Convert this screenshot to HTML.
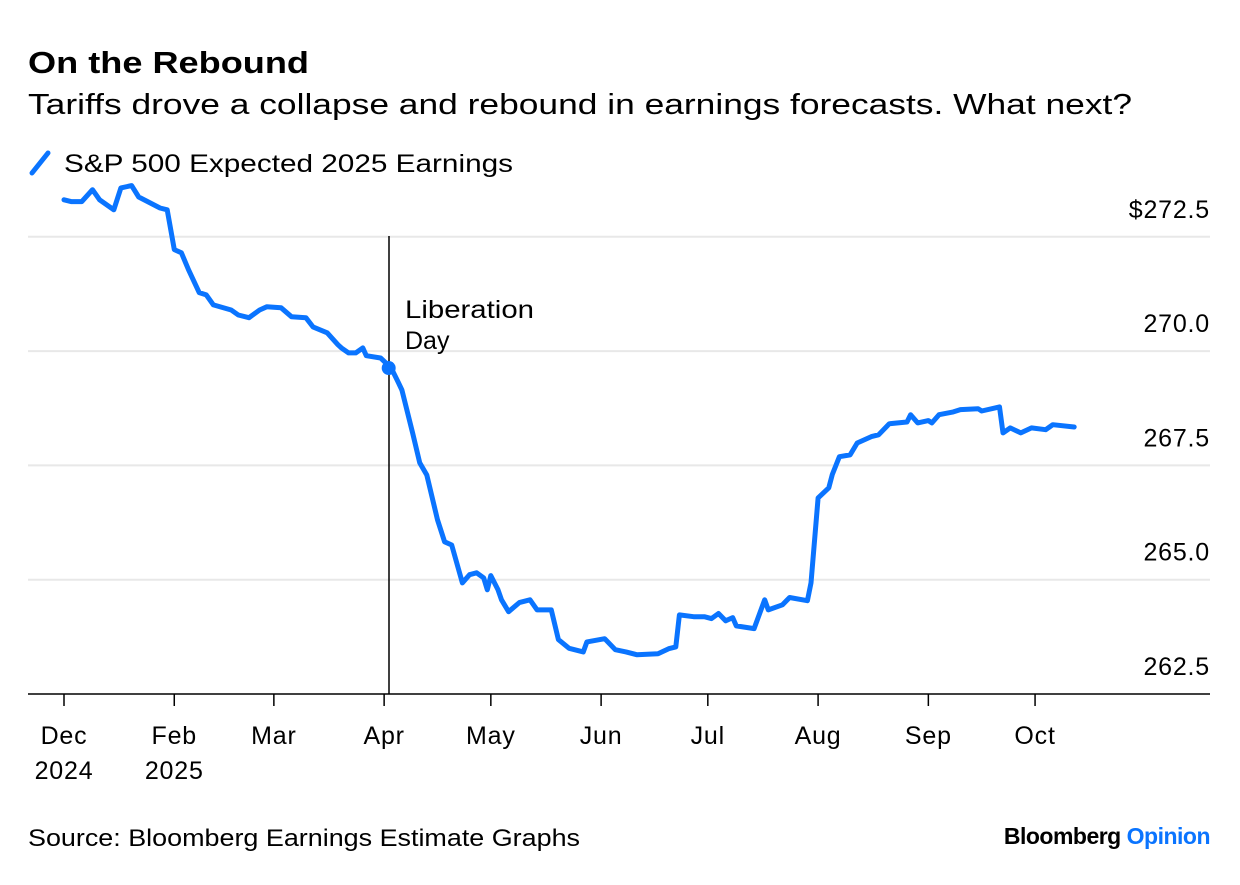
<!DOCTYPE html>
<html><head><meta charset="utf-8"><style>
body{margin:0;background:#fff;}
svg text{font-family:"Liberation Sans",sans-serif;}
</style></head><body>
<svg width="1240" height="880" viewBox="0 0 1240 880">
<text x="28" y="73" font-size="31" font-weight="bold" fill="#000" textLength="281" lengthAdjust="spacingAndGlyphs">On the Rebound</text>
<text x="28" y="114" font-size="29" fill="#000" textLength="1104" lengthAdjust="spacingAndGlyphs">Tariffs drove a collapse and rebound in earnings forecasts. What next?</text>
<g>
<line x1="32" y1="173" x2="48" y2="153" stroke="#0a74ff" stroke-width="5" stroke-linecap="round"/>
<text x="64" y="172" font-size="25" fill="#000" textLength="449" lengthAdjust="spacingAndGlyphs">S&amp;P 500 Expected 2025 Earnings</text>
</g>
<g id="grid"></g>
<g id="xaxis"></g>
<line x1="389" y1="236" x2="389" y2="694" stroke="#000" stroke-width="1.5"/>
<text x="405" y="318" font-size="25" fill="#000"><tspan x="405" textLength="129" lengthAdjust="spacingAndGlyphs">Liberation</tspan><tspan x="405" dy="31">Day</tspan></text>
<path id="line" fill="none" stroke="#0a74ff" stroke-width="5" stroke-linejoin="round" stroke-linecap="round"/>
<circle id="dot" r="7" fill="#0a74ff"/>
<text x="28" y="846" font-size="24" fill="#000" textLength="552" lengthAdjust="spacingAndGlyphs">Source: Bloomberg Earnings Estimate Graphs</text>
<text x="1210" y="844" font-size="23" font-weight="bold" text-anchor="end" letter-spacing="-0.5"><tspan fill="#000">Bloomberg </tspan><tspan fill="#0a74ff">Opinion</tspan></text>
</svg>
<script>
const days=[0,2,5,8,10,14,16,19,21,27,29,31,33,35,38,40,42,47,49,52,55,57,61,64,68,70,74,77,78,80,82,84,85,89,92,94,95,98,100,102,105,107,109,112,114,116,118,119,120,122,123,125,128,131,133,137,139,142,146,147,152,155,158,161,167,170,172,173,177,180,182,184,186,188,189,194,197,198,202,204,209,210,212,215,216,218,221,223,227,229,232,237,238,240,243,244,246,250,252,257,258,263,264,266,269,272,276,278,284];
const values=[273.31,273.27,273.27,273.53,273.31,273.09,273.57,273.62,273.37,273.13,273.09,272.22,272.15,271.78,271.28,271.23,271.01,270.90,270.79,270.73,270.90,270.97,270.95,270.75,270.73,270.53,270.40,270.14,270.07,269.96,269.96,270.07,269.90,269.85,269.63,269.31,269.15,268.21,267.56,267.29,266.31,265.83,265.76,264.93,265.11,265.15,265.04,264.78,265.09,264.78,264.56,264.30,264.50,264.56,264.34,264.34,263.69,263.50,263.42,263.64,263.71,263.47,263.42,263.36,263.38,263.49,263.53,264.23,264.19,264.19,264.15,264.26,264.10,264.17,263.99,263.93,264.56,264.34,264.45,264.61,264.54,264.93,266.79,267.01,267.30,267.69,267.73,267.99,268.13,268.17,268.41,268.45,268.61,268.43,268.48,268.43,268.61,268.67,268.72,268.74,268.69,268.78,268.21,268.32,268.21,268.32,268.28,268.39,268.34];
const yTicks=[262.5,265.0,267.5,270.0,272.5];
const yTickLabels=["262.5","265.0","267.5","270.0","$272.5"];
const monthDays=[0,31,59,90,120,151,181,212,243,273];
const monthLabels=[["Dec","2024"],["Feb","2025"],["Mar"],["Apr"],["May"],["Jun"],["Jul"],["Aug"],["Sep"],["Oct"]];
const libDay=91;
const xs=d=>64+d*3.557;
const ys=v=>694-(v-262.5)*45.72;
const NS="http://www.w3.org/2000/svg";
const grid=document.getElementById('grid');
yTicks.forEach((t,i)=>{
 const y=ys(t);
 if(i>0){const l=document.createElementNS(NS,'line');
 l.setAttribute('x1',28);l.setAttribute('x2',1210);l.setAttribute('y1',y);l.setAttribute('y2',y);
 l.setAttribute('stroke','#e8e8e8');l.setAttribute('stroke-width','2');
 
 
 grid.appendChild(l);}
 const tx=document.createElementNS(NS,'text');
 tx.setAttribute('x',1210);tx.setAttribute('y',y-19);tx.setAttribute('text-anchor','end');tx.setAttribute('font-size','25');tx.setAttribute('letter-spacing','0.8');
 tx.textContent=yTickLabels[i];
 
 
 grid.appendChild(tx);
});
const xa=document.getElementById('xaxis');
const base=document.createElementNS(NS,'line');
base.setAttribute('x1',28);base.setAttribute('x2',1210);base.setAttribute('y1',694);base.setAttribute('y2',694);base.setAttribute('stroke','#000');base.setAttribute('stroke-width','1.5');


xa.appendChild(base);
monthDays.forEach((d,i)=>{
 const x=xs(d);
 const t=document.createElementNS(NS,'line');
 t.setAttribute('x1',x);t.setAttribute('x2',x);t.setAttribute('y1',694);t.setAttribute('y2',706);t.setAttribute('stroke','#000');t.setAttribute('stroke-width','1.5');
 
 
 xa.appendChild(t);
 monthLabels[i].forEach((s,j)=>{
  const tx=document.createElementNS(NS,'text');
  tx.setAttribute('x',x);tx.setAttribute('y',744+j*35);tx.setAttribute('text-anchor','middle');tx.setAttribute('font-size','25');tx.setAttribute('letter-spacing','0.8');
  tx.textContent=s;
  
  
  xa.appendChild(tx);
 });
});
document.getElementById('line').setAttribute('d',days.map((d,i)=>(i?'L':'M')+xs(d).toFixed(1)+','+ys(values[i]).toFixed(1)).join(''));
const li=days.indexOf(92);
const dot=document.getElementById('dot');
dot.setAttribute('cx',xs(libDay)+1);dot.setAttribute('cy',ys(values[li]));
</script>
</body></html>
